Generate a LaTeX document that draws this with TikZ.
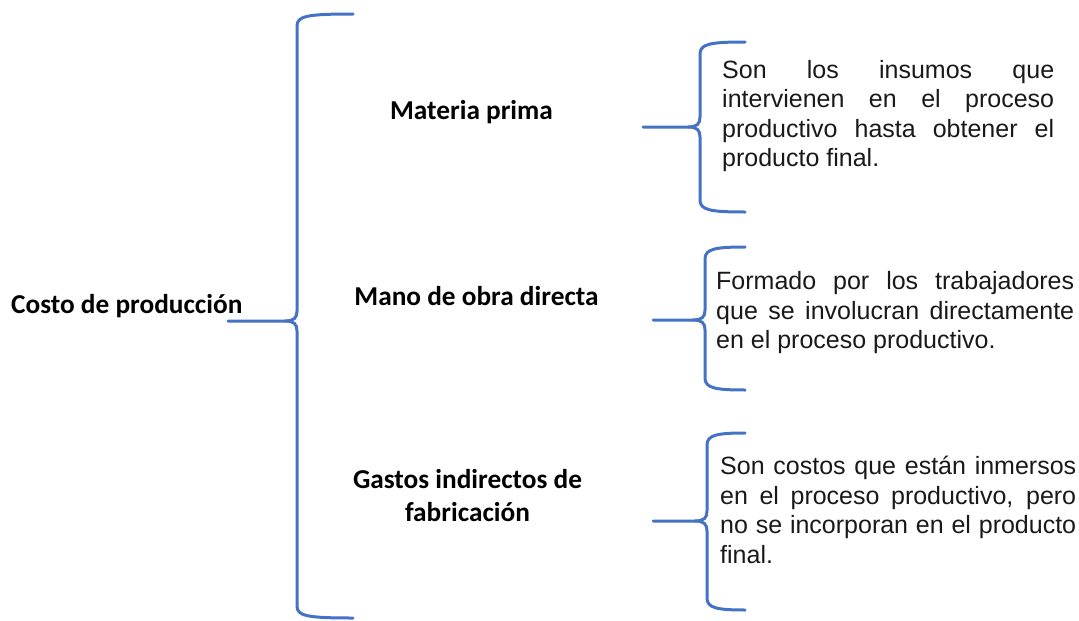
\documentclass[tikz,border=0pt]{standalone}
\usepackage{fontspec}
\newfontfamily\carl{Carlito}
\newfontfamily\arial{Liberation Sans}
\definecolor{braceblue}{HTML}{4472C4}
% #1 name, #2 X (vertical), #3 top, #4 tip, #5 bottom, #6 right end, #7 left end
\newcommand{\bracedraw}[7]{%
  \coordinate (#1-top) at (#6,#3);
  \coordinate (#1-bot) at (#6,#5);
  \coordinate (#1-tip) at (#7,#4);
  \draw[bracestyle] (#1-top) .. controls ({#2+10},{#3}) and ({#2},{#3+2}) .. ({#2},{#3+12})
     -- ({#2},{#4-10}) .. controls ({#2},{#4-3}) and ({#2-3},{#4}) .. ({#2-12},{#4}) -- (#1-tip);
  \draw[bracestyle] ({#2-12},{#4}) .. controls ({#2-3},{#4}) and ({#2},{#4+3}) .. ({#2},{#4+10})
     -- ({#2},{#5-12}) .. controls ({#2},{#5-2}) and ({#2+10},{#5}) .. (#1-bot);
}
\begin{document}
\begin{tikzpicture}[x=1pt,y=-1pt,
  bracestyle/.style={draw=braceblue, line width=3pt, line cap=round, line join=round},
  lbl/.style={font=\carl\bfseries\fontsize{27.3}{33}\selectfont, align=center, inner sep=0pt, text=black},
  desc/.style={font=\arial\fontsize{25}{29.5}\selectfont, align=left, inner sep=0pt, anchor=base west, text=black!90}]
\useasboundingbox (0,0) rectangle (1079,621);

\bracedraw{main}{297}{14}{321}{618}{353}{228}
\bracedraw{b1}{700}{42}{127}{212}{745}{643}
\bracedraw{b2}{705}{247}{320}{390}{745}{653}
\bracedraw{b3}{707}{433}{521}{610}{745}{653}

\node[lbl, anchor=base west] (costo) at (11,313) {Costo de producción};
\node[lbl, anchor=base] (mp) at (471.5,119) {Materia prima};
\node[lbl, anchor=base] (mo) at (476.5,305) {Mano de obra directa};
% base anchor = baseline of the last line
\node[lbl, anchor=base] (gi) at (467.5,521) {Gastos indirectos de\\fabricación};

\node[desc] (d1) at (722,166.5) {\makebox[332pt][s]{Son los insumos que}\\
  \makebox[332pt][s]{intervienen en el proceso}\\
  \makebox[332pt][s]{productivo hasta obtener el}\\
  producto final.};
\node[desc] (d2) at (716,348.5) {\makebox[358pt][s]{Formado por los trabajadores}\\
  \makebox[358pt][s]{que se involucran directamente}\\
  en el proceso productivo.};
\node[desc] (d3) at (720,563) {\makebox[356pt][s]{Son costos que están inmersos}\\
  \makebox[356pt][s]{en el proceso productivo, pero}\\
  \makebox[356pt][s]{no se incorporan en el producto}\\
  final.};
\end{tikzpicture}
\end{document}
